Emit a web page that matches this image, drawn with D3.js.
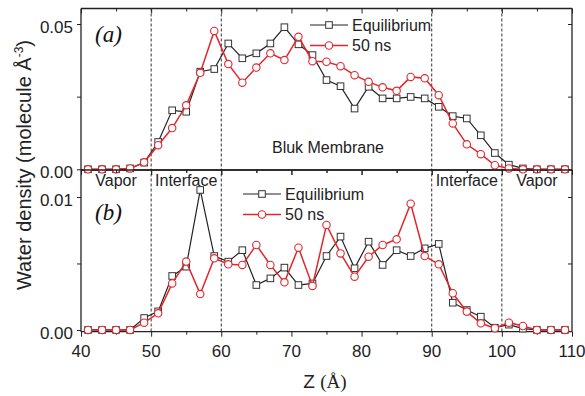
<!DOCTYPE html>
<html><head><meta charset="utf-8">
<script src="https://cdn.jsdelivr.net/npm/d3@7"></script>
<style>body{margin:0;background:#fff}svg{display:block;font-family:Arial,"Liberation Sans",sans-serif}</style>
</head><body>
<svg id="c" width="585" height="396"></svg>
<script>
const z = [41,43,45,47,49,51,53,55,57,59,61,63,65,67,69,71,73,75,77,79,81,83,85,87,89,91,93,95,97,99,101,103,105,107,109];
const eqA = [0,0,0,0.0003,0.0023, 0.0094,0.0203,0.0198,0.0336,0.0345, 0.0433,0.0382,0.0399,0.0433,0.0489, 0.043,0.0393,0.0307,0.0286,0.0209, 0.0284,0.0244,0.0244,0.0249,0.0244, 0.0215,0.0183,0.0175,0.0117,0.0056, 0.0016,0.0003,0,0,0];
const nsA = [0,0,0,0.0003,0.0024, 0.0083,0.0142,0.022,0.0332,0.0476, 0.0362,0.0298,0.035,0.0399,0.0376, 0.0456,0.0372,0.037,0.0355,0.0324, 0.0301,0.0282,0.027,0.0318,0.0313, 0.0255,0.0158,0.0086,0.0052,0.0014, 0.0003,0,0,0,0];
const eqB = [0,0,0,0,0.0009, 0.0014,0.00406,0.00476,0.01053,0.00556, 0.00514,0.006,0.00338,0.00388,0.00469, 0.00338,0.0035,0.00556,0.00702,0.00464, 0.00664,0.00489,0.006,0.00556,0.00614, 0.00647,0.00205,0.0015,0.001,0.00017, 0.0004,0.0001,0,0,0];
const nsB = [0,0,0,0,0.00055, 0.00125,0.0035,0.00514,0.0027,0.00539, 0.00494,0.00489,0.00639,0.00489,0.00358, 0.00619,0.00331,0.0079,0.00576,0.00401, 0.00551,0.00639,0.00682,0.0095,0.00556, 0.00494,0.00276,0.00138,0.0005,0.00013, 0.00055,0.0003,0,0,0];
const xTicks = [40,50,60,70,80,90,100,110];
const regionLines = [50,60,90,100];
const regionTop = [["Vapor",45],["Interface",55],["Interface",95],["Vapor",105]];
const seriesNames = ["Equilibrium","50 ns"];

const svg = d3.select("#c");
const L = 81, R = 572;
const x = d3.scaleLinear().domain([40,110]).range([L,R]);
const yA = d3.scaleLinear().domain([-0.00024,0.05533]).range([170,8.5]);
const yB = d3.scaleLinear().domain([-0.00013,0.01203]).range([331.7,170]);
const RED = "#e3262c", BLK = "#222";

// dashed region lines
svg.append("g").selectAll("line").data(regionLines).join("line")
  .attr("x1",d=>x(d)).attr("x2",d=>x(d)).attr("y1",8.5).attr("y2",331.7)
  .attr("stroke","#333").attr("stroke-width",1).attr("stroke-dasharray","3,2");

function panel(y, eq, ns, major, minorV, label, labY, legX, legY){
  const top = y.range()[1], bot = y.range()[0];
  const g = svg.append("g");
  const ax = d3.axisLeft(y).tickValues([0, major]).tickFormat(d3.format(".2f")).tickSize(4).tickPadding(4);
  const ga = g.append("g").attr("transform",`translate(${L},0)`).call(ax);
  ga.select(".domain").remove();
  ga.selectAll("text").attr("font-size",17).attr("fill","#222").attr("dy","0.5em");
  ga.selectAll("line").attr("stroke","#222");
  g.append("g").attr("transform",`translate(${L},0)`).call(d3.axisLeft(y).tickValues([minorV]).tickFormat("").tickSize(4))
    .call(s=>{s.select(".domain").remove();s.selectAll("line").attr("stroke","#222");});
  g.append("g").attr("transform",`translate(${R},0)`).call(d3.axisRight(y).tickValues([minorV,major]).tickFormat("").tickSize(-4))
    .call(s=>{s.select(".domain").remove();s.selectAll("line").attr("stroke","#222");});
  g.append("line").attr("x1",L).attr("x2",L).attr("y1",top).attr("y2",bot).attr("stroke","#222").attr("stroke-width",1.3);
  g.append("line").attr("x1",R).attr("x2",R).attr("y1",top).attr("y2",bot).attr("stroke","#222").attr("stroke-width",1.3);
  g.append("line").attr("x1",L).attr("x2",R).attr("y1",top).attr("y2",top).attr("stroke","#222").attr("stroke-width",1.3);
  g.append("line").attr("x1",L).attr("x2",R).attr("y1",bot).attr("y2",bot).attr("stroke","#222").attr("stroke-width",1.3);
  const ticksMaj = d3.range(40,111,10), ticksMin = d3.range(45,110,10);
  g.append("g").attr("transform",`translate(0,${top})`).call(d3.axisBottom(x).tickValues(ticksMaj).tickFormat("").tickSize(5))
    .call(s=>{s.select(".domain").remove();s.selectAll("line").attr("stroke","#222");});
  g.append("g").attr("transform",`translate(0,${top})`).call(d3.axisBottom(x).tickValues(ticksMin).tickFormat("").tickSize(3))
    .call(s=>{s.select(".domain").remove();s.selectAll("line").attr("stroke","#222");});
  g.append("g").attr("transform",`translate(0,${bot})`).call(d3.axisBottom(x).tickValues(ticksMaj).tickFormat("").tickSize(5))
    .call(s=>{s.select(".domain").remove();s.selectAll("line").attr("stroke","#222");});
  g.append("g").attr("transform",`translate(0,${bot})`).call(d3.axisBottom(x).tickValues(ticksMin).tickFormat("").tickSize(3))
    .call(s=>{s.select(".domain").remove();s.selectAll("line").attr("stroke","#222");});

  const line = d3.line().x((d,i)=>x(z[i])).y(d=>y(d));
  g.append("path").datum(eq).attr("d",line).attr("fill","none").attr("stroke",BLK).attr("stroke-width",1.2);
  g.append("g").selectAll("rect").data(eq).join("rect")
    .attr("x",(d,i)=>x(z[i])-3.3).attr("y",d=>y(d)-3.3).attr("width",6.6).attr("height",6.6)
    .attr("fill","#fff").attr("stroke","#333").attr("stroke-width",1);
  g.append("path").datum(ns).attr("d",line).attr("fill","none").attr("stroke",RED).attr("stroke-width",1.5);
  g.append("g").selectAll("circle").data(ns).join("circle")
    .attr("cx",(d,i)=>x(z[i])).attr("cy",d=>y(d)).attr("r",3.7)
    .attr("fill","#fff").attr("stroke",RED).attr("stroke-width",1.1);

  g.append("text").attr("x",95).attr("y",labY).attr("font-family","'Liberation Serif','Times New Roman',serif")
    .attr("font-style","italic").attr("font-size",23).attr("fill","#111").text(label);

  const lg = g.append("g");
  [0,1].forEach(k=>{
    const yy = legY + k*20.5;
    const col = k===0?BLK:RED;
    lg.append("line").attr("x1",legX).attr("x2",legX+38).attr("y1",yy).attr("y2",yy).attr("stroke",col).attr("stroke-width",k?1.5:1.2);
    if(k===0) lg.append("rect").attr("x",legX+19-3.3).attr("y",yy-3.3).attr("width",6.6).attr("height",6.6).attr("fill","#fff").attr("stroke","#333");
    else lg.append("circle").attr("cx",legX+19).attr("cy",yy).attr("r",3.7).attr("fill","#fff").attr("stroke",RED).attr("stroke-width",1.1);
    lg.append("text").attr("x",legX+42).attr("y",yy+5.8).attr("font-size",16).attr("fill","#222").text(seriesNames[k]);
  });
}

panel(yA, eqA, nsA, 0.05, 0.025, "(a)", 42, 310, 25);
panel(yB, eqB, nsB, 0.01, 0.005, "(b)", 220, 243, 194);

svg.append("g").selectAll("text").data(xTicks).join("text")
  .attr("x",d=>x(d)).attr("y",357).attr("text-anchor","middle").attr("font-size",17).attr("fill","#222").text(d=>d);

svg.append("g").selectAll("text").data(regionTop).join("text")
  .attr("x",d=>x(d[1])).attr("y",186).attr("text-anchor","middle").attr("font-size",16).attr("fill","#222").text(d=>d[0]);
svg.append("text").attr("x",328).attr("y",153).attr("text-anchor","middle").attr("font-size",16).attr("fill","#222").text("Bluk Membrane");

const xt = svg.append("text").attr("x",325).attr("y",388).attr("text-anchor","middle").attr("font-size",19).attr("fill","#222");
xt.append("tspan").text("Z ");
xt.append("tspan").attr("font-family","'Liberation Serif','Times New Roman',serif").text("(Å)");

const yt = svg.append("text").attr("transform","translate(31,165) rotate(-90)").attr("text-anchor","middle").attr("font-size",20).attr("fill","#222");
yt.append("tspan").text("Water density (molecule Å");
yt.append("tspan").attr("font-size",12).attr("dy",-8).text("-3");
yt.append("tspan").attr("dy",8).text(")");
</script>
</body></html>
